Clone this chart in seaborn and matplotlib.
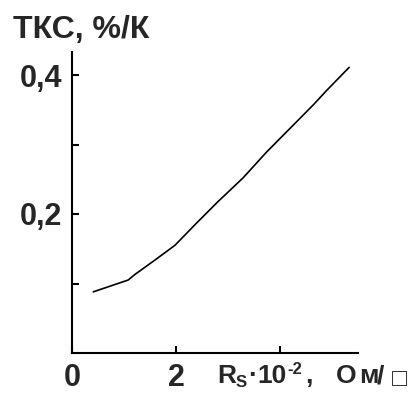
import matplotlib
matplotlib.use('Agg')
import matplotlib.pyplot as plt
import seaborn as sns
import pandas as pd

# dane
rs = [0.41, 1.08, 1.21, 1.60, 1.98, 2.37, 2.81, 3.29, 3.74, 4.19, 4.64, 4.90, 5.33]
tks = [0.088, 0.105, 0.113, 0.134, 0.155, 0.185, 0.218, 0.252, 0.289, 0.323, 0.357, 0.378, 0.411]
x_ticks = [0, 2, 4]
x_tick_labels = ['0', '2', '']
y_ticks = [0.1, 0.2, 0.3, 0.4]
y_tick_labels = ['', '0,2', '', '0,4']

df = pd.DataFrame({'rs': rs, 'tks': tks})

sns.set_style('ticks')
plt.rcParams['font.family'] = ['Liberation Sans', 'DejaVu Sans']

fig = plt.figure(figsize=(4.17, 3.94), dpi=100)
ax = fig.add_axes([72 / 417, 41 / 394, 286 / 417, 301 / 394])

sns.lineplot(data=df, x='rs', y='tks', ax=ax, color='black', linewidth=1.2)

ax.set_xlim(0, 286 / 52)
ax.set_ylim(0, 301 / 695)
ax.set_xticks(x_ticks)
ax.set_xticklabels(x_tick_labels, fontsize=22, fontweight='bold')
ax.set_yticks(y_ticks)
ax.set_yticklabels(y_tick_labels, fontsize=22, fontweight='bold')
ax.tick_params(direction='in', length=5, width=1.5, pad=7, color='black')
ax.set_xlabel('')
ax.set_ylabel('')

for side in ['top', 'right']:
    ax.spines[side].set_visible(False)
for side in ['left', 'bottom']:
    ax.spines[side].set_linewidth(1.5)
    ax.spines[side].set_color('black')

fig.text(13 / 417, 1 - 38 / 394, 'ТКС, %/К', fontsize=23, fontweight='bold',
         ha='left', va='baseline')

# podpis osi X składany z kawałków: (tekst, lewa krawędź px, rozmiar, przesunięcie px)
pieces = [('R', 217, 19, 0), ('S', 236, 12, -4), ('·', 248, 19, 0),
          ('10', 257, 19, 0), ('-2', 287, 12, 9), (',', 305, 19, 0),
          ('О', 336, 19, 0), ('м', 359, 19, 0), ('/', 377, 19, 0),
          ('□', 392, 18, -3)]
base_px = 383
for txt, left, size, dy in pieces:
    fig.text(left / 417, 1 - (base_px - dy) / 394, txt, fontsize=size,
             fontweight='bold', ha='left', va='baseline')

fig.savefig('out.png', dpi=100)
